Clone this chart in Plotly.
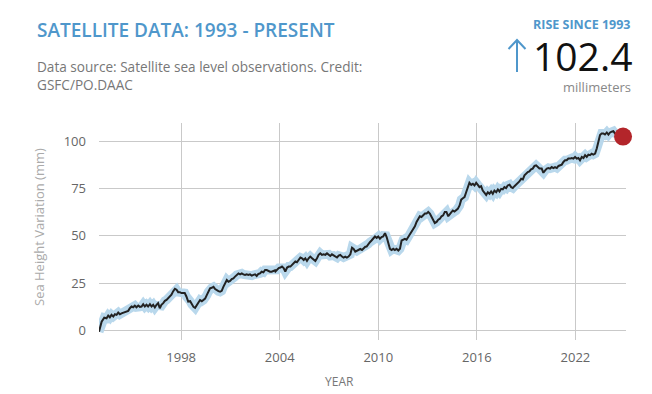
import plotly.graph_objects as go

# ---------------- data ----------------
YEARS = [
    1993.00, 1993.16, 1993.32, 1993.46, 1993.56, 1993.66, 1993.76, 1993.87, 1993.97, 1994.07,
    1994.17, 1994.27, 1994.37, 1994.47, 1994.58, 1994.78, 1994.88, 1994.98, 1995.08, 1995.18,
    1995.28, 1995.39, 1995.49, 1995.59, 1995.69, 1995.79, 1995.89, 1995.99, 1996.10, 1996.20,
    1996.30, 1996.40, 1996.50, 1996.60, 1996.70, 1996.80, 1996.91, 1997.01, 1997.11, 1997.21,
    1997.31, 1997.41, 1997.51, 1997.62, 1997.72, 1997.82, 1997.92, 1998.02, 1998.12, 1998.22,
    1998.32, 1998.43,
    1998.55, 1998.65, 1998.75, 1998.85, 1998.95, 1999.05, 1999.15, 1999.26, 1999.36, 1999.46,
    1999.56, 1999.66, 1999.76, 1999.86, 1999.97, 2000.07, 2000.17, 2000.27, 2000.37, 2000.47,
    2000.57, 2000.67, 2000.78, 2000.88, 2000.98, 2001.08, 2001.18, 2001.28, 2001.38, 2001.49,
    2001.59, 2001.69, 2001.79, 2001.89, 2001.99, 2002.09, 2002.19, 2002.30, 2002.40, 2002.50,
    2002.60, 2002.70, 2002.80, 2002.90, 2003.01, 2003.11, 2003.21, 2003.31, 2003.41, 2003.51,
    2003.61, 2003.71,
    2003.74, 2003.84, 2003.94, 2004.04, 2004.14, 2004.24, 2004.34, 2004.45, 2004.55, 2004.65,
    2004.75, 2004.85, 2004.95, 2005.05, 2005.16, 2005.26, 2005.36, 2005.46, 2005.56, 2005.66,
    2005.76, 2005.86, 2005.97, 2006.07, 2006.17, 2006.27, 2006.37, 2006.47, 2006.57, 2006.67,
    2006.78, 2006.88, 2006.98, 2007.08, 2007.18, 2007.28, 2007.38, 2007.49, 2007.59, 2007.69,
    2007.79, 2007.89, 2007.99, 2008.09, 2008.19, 2008.30, 2008.40, 2008.50, 2008.60, 2008.70,
    2008.80, 2008.90, 2009.01, 2009.11, 2009.21,
    2009.29, 2009.39, 2009.49, 2009.59, 2009.70, 2009.80, 2009.90, 2010.00, 2010.10, 2010.20,
    2010.30, 2010.41, 2010.51, 2010.61, 2010.71, 2010.81, 2010.91, 2011.01, 2011.11, 2011.22,
    2011.32, 2011.42, 2011.52, 2011.62, 2011.72, 2011.82, 2011.92, 2012.03, 2012.13, 2012.23,
    2012.33, 2012.43, 2012.53, 2012.63, 2012.74, 2012.84, 2012.94, 2013.04, 2013.14, 2013.24,
    2013.34, 2013.44, 2013.55, 2013.65, 2013.75, 2013.85, 2013.95, 2014.05, 2014.15, 2014.26,
    2014.44, 2014.54, 2014.64, 2014.74, 2014.84, 2014.95, 2015.05, 2015.15, 2015.25, 2015.35,
    2015.45, 2015.55, 2015.66, 2015.76, 2015.86, 2015.96, 2016.06, 2016.16, 2016.26, 2016.36,
    2016.47, 2016.57, 2016.67, 2016.77, 2016.87, 2016.97, 2017.07, 2017.18, 2017.28, 2017.38,
    2017.48, 2017.58, 2017.68, 2017.78, 2017.88, 2017.99, 2018.09, 2018.19, 2018.29, 2018.39,
    2018.49, 2018.59, 2018.70, 2018.80, 2018.90, 2019.00, 2019.10, 2019.20, 2019.30, 2019.40,
    2019.51, 2019.61, 2019.71, 2019.81,
    2019.95, 2020.05, 2020.16, 2020.26, 2020.36, 2020.46, 2020.56, 2020.66, 2020.76, 2020.87,
    2020.97, 2021.07, 2021.17, 2021.27, 2021.37, 2021.47, 2021.57, 2021.68, 2021.78, 2021.88,
    2021.98, 2022.08, 2022.18, 2022.28, 2022.39, 2022.49, 2022.59, 2022.69, 2022.79, 2022.89,
    2022.99, 2023.09, 2023.20, 2023.30, 2023.40, 2023.50, 2023.60, 2023.70, 2023.80, 2023.91,
    2024.01, 2024.11, 2024.21, 2024.31, 2024.41, 2024.51, 2024.71, 2024.90,
]

SEA_LEVEL_MM = [
    -0.7, 4.6, 6.7, 6.4, 7.8, 6.9, 8.2, 7.3, 8.5, 8.2,
    9.4, 8.5, 9.0, 9.4, 9.9, 10.3, 11.7, 12.6, 12.2, 13.1,
    12.2, 13.1, 12.4, 12.6, 13.8, 12.6, 13.5, 12.6, 13.8, 12.6,
    13.5, 12.1, 13.5, 14.4, 11.7, 13.5, 14.4, 15.6, 16.1, 17.0,
    17.9, 18.8, 20.6, 22.0, 21.5, 20.2, 20.2, 19.7, 19.7, 19.7,
    17.9, 15.2,
    15.4, 13.7, 12.4, 11.9, 13.3, 14.7, 16.0, 15.4, 16.0, 16.8,
    18.6, 20.4, 22.2, 22.5, 23.0, 21.8, 21.1, 20.7, 20.4, 20.9,
    23.0, 24.8, 26.6, 25.7, 26.1, 27.1, 27.5, 28.4, 29.3, 30.1,
    29.6, 30.1, 29.6, 29.3, 29.6, 29.3, 29.6, 28.9, 29.3, 29.6,
    28.7, 29.8, 30.1, 31.0, 30.7, 31.9, 31.9, 31.4, 31.0, 31.0,
    31.4, 31.7,
    31.1, 32.0, 32.9, 33.2, 33.7, 32.9, 31.1, 33.2, 33.7, 33.7,
    34.6, 35.0, 36.4, 36.0, 37.2, 38.5, 38.1, 37.2, 38.1, 36.7,
    38.1, 39.0, 38.1, 37.2, 36.7, 38.1, 39.9, 40.7, 39.9, 40.2,
    39.9, 40.7, 40.2, 39.3, 40.2, 39.5, 39.0, 38.5, 39.5, 39.9,
    39.0, 38.5, 39.0, 38.5, 39.0, 40.2, 43.7, 43.0, 41.6, 42.0,
    42.5, 43.0, 42.5, 43.4, 44.2,
    44.3, 45.7, 46.6, 47.5, 48.4, 49.6, 48.9, 49.6, 48.4, 49.3,
    49.6, 51.4, 49.3, 45.7, 43.1, 42.5, 43.1, 42.5, 43.1, 42.2,
    43.1, 47.5, 47.9, 48.4, 47.9, 49.3, 51.1, 52.8, 53.7, 55.0,
    57.3, 59.0, 60.3, 59.9, 60.8, 61.7, 61.7, 62.6, 61.7, 59.9,
    58.2, 56.7, 57.3, 58.5, 59.0, 60.3, 60.8, 62.6, 62.6, 60.3,
    62.4, 63.3, 62.8, 63.3, 64.2, 66.0, 69.1, 69.8, 70.4, 73.0,
    75.7, 78.0, 76.9, 77.5, 76.6, 78.0, 76.9, 75.7, 76.2, 73.9,
    72.7, 71.6, 73.0, 72.2, 73.4, 72.2, 73.9, 73.0, 74.5, 73.4,
    74.8, 74.5, 75.7, 75.2, 76.6, 77.0, 75.7, 75.2, 76.2, 77.0,
    78.0, 78.7, 80.1, 79.8, 81.9, 82.8, 83.7, 84.0, 85.1, 85.5,
    86.9, 87.2, 86.4, 85.5,
    85.5, 83.3, 84.6, 85.5, 85.8, 85.5, 86.3, 85.8, 86.3, 85.8,
    86.9, 87.2, 87.6, 89.0, 89.9, 89.9, 90.8, 90.8, 91.1, 90.8,
    91.7, 90.8, 91.1, 89.9, 91.7, 91.1, 92.6, 91.7, 92.9, 92.6,
    93.4, 92.9, 93.4, 96.1, 100.5, 103.2, 104.1, 104.1, 103.5, 104.6,
    103.5, 104.6, 105.0, 105.3, 104.1, 103.5, 103.2, 102.4,
]

X_TICKS = [1998, 2004, 2010, 2016, 2022]
Y_TICKS = [0, 25, 50, 75, 100]

TITLE = "SATELLITE DATA: 1993 - PRESENT"
SUBTITLE = "Data source: Satellite sea level observations. Credit:<br>GSFC/PO.DAAC"
RISE_LABEL = "RISE SINCE 1993"
RISE_VALUE = "102.4"
RISE_UNIT = "millimeters"
X_TITLE = "YEAR"
Y_TITLE = "Sea Height Variation (mm)"

# ---------------- layout helpers ----------------
# the page body has an 8px margin, so the figure starts at (8, 8) in the window
PAGE_W, PAGE_H, BODY = 652, 394, 8
W, H = PAGE_W - BODY, PAGE_H - BODY
PLOT_L, PLOT_R, PLOT_T, PLOT_B = 99, 626, 123, 340   # plot area in window pixels
PW, PH = PLOT_R - PLOT_L, PLOT_B - PLOT_T


def px(x):
    return (x - PLOT_L) / PW


def py(y):
    return (PLOT_B - y) / PH


BLUE = "#4f97cb"
FONT = "Open Sans, DejaVu Sans, sans-serif"

fig = go.Figure()

# uncertainty band (drawn as a wide pale line under the series)
fig.add_trace(go.Scatter(
    x=YEARS, y=SEA_LEVEL_MM, mode="lines",
    line=dict(color="#b9d8ec", width=9),
    hoverinfo="skip", showlegend=False,
))
fig.add_trace(go.Scatter(
    x=YEARS, y=SEA_LEVEL_MM, mode="lines",
    line=dict(color="#222222", width=2),
    showlegend=False,
))
fig.add_trace(go.Scatter(
    x=[YEARS[-1]], y=[SEA_LEVEL_MM[-1]], mode="markers",
    marker=dict(color="#b3252a", size=18, line=dict(width=0)),
    cliponaxis=False, showlegend=False,
))

ann = [
    dict(text=TITLE, x=px(35), y=py(30), xanchor="left", yanchor="middle",
         font=dict(size=19, color=BLUE, family=FONT, weight=600)),
    dict(text=SUBTITLE, x=px(35), y=py(75), xanchor="left", yanchor="middle", align="left",
         font=dict(size=13.6, color="#777777", family=FONT)),
    dict(text=RISE_LABEL, x=px(633), y=py(24), xanchor="right", yanchor="middle",
         font=dict(size=12.5, color=BLUE, family=FONT, weight=700)),
    dict(text=RISE_VALUE, x=px(634), y=py(56), xanchor="right", yanchor="middle",
         font=dict(size=39, color="#111111", family=FONT)),
    dict(text=RISE_UNIT, x=px(633), y=py(87), xanchor="right", yanchor="middle",
         font=dict(size=13, color="#888888", family=FONT)),
    dict(text=Y_TITLE, x=px(39), y=py(227), xanchor="center", yanchor="middle", textangle=-90,
         font=dict(size=13, color="#aaaaaa", family=FONT)),
    dict(text=X_TITLE, x=px(339), y=py(381), xanchor="center", yanchor="middle",
         font=dict(size=12, color="#777777", family=FONT)),
]
for a in ann:
    a.update(xref="paper", yref="paper", showarrow=False)

# thin "up" arrow icon left of the value
arrow = dict(type="path", xref="paper", yref="paper",
             path=f"M {px(517)},{py(72)} L {px(517)},{py(40)} "
                  f"M {px(508.5)},{py(49)} L {px(517)},{py(40)} L {px(525.5)},{py(49)}",
             line=dict(color=BLUE, width=2))

fig.update_layout(
    width=W, height=H,
    margin=dict(l=PLOT_L - BODY, r=PAGE_W - PLOT_R, t=PLOT_T - BODY, b=PAGE_H - PLOT_B, pad=0),
    paper_bgcolor="white", plot_bgcolor="white",
    font=dict(family=FONT, size=13, color="#666666"),
    annotations=ann,
    shapes=[arrow],
    xaxis=dict(range=[1993.0, 2025.08], tickvals=X_TICKS, showgrid=True,
               gridcolor="#c9c9c9", gridwidth=1, zeroline=False, showline=False,
               ticks="", ticklabelstandoff=8, tickfont=dict(size=13, color="#666666")),
    yaxis=dict(range=[-5.1, 109.6], tickvals=Y_TICKS, showgrid=True,
               gridcolor="#c9c9c9", gridwidth=1, zeroline=False, showline=False,
               ticks="", ticklabelstandoff=12, tickfont=dict(size=13, color="#666666")),
    showlegend=False,
)

fig.write_html("out.html")
